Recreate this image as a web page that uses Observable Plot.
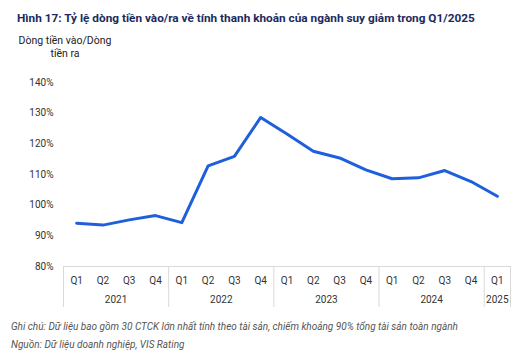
<!DOCTYPE html>
<html><head><meta charset="utf-8">
<script src="https://cdn.jsdelivr.net/npm/d3@7"></script>
<script src="https://cdn.jsdelivr.net/npm/@observablehq/plot@0.6"></script>
<style>
body{margin:0;width:520px;height:356px;position:relative;background:#fff;font-family:Roboto,sans-serif;overflow:hidden}
#title{position:absolute;left:17px;top:11px;font-size:11.8px;font-weight:700;color:#1c2a5e;white-space:nowrap}
#ylabel{position:absolute;left:15px;top:35px;width:100px;text-align:center;font-size:10.5px;line-height:12.5px;color:#222}
#chart{position:absolute;left:0;top:70px}
#note{position:absolute;left:11px;top:318px;font-size:10px;font-style:italic;color:#555;line-height:18px;white-space:nowrap}
</style></head><body>
<div id="title">Hình 17: Tỷ lệ dòng tiền vào/ra về tính thanh khoản của ngành suy giảm trong Q1/2025</div>
<div id="ylabel">Dòng tiền vào/Dòng<br>tiền ra</div>
<div id="chart"></div>
<div id="note">Ghi chú: Dữ liệu bao gồm 30 CTCK lớn nhất tính theo tài sản, chiếm khoảng 90% tổng tài sản toàn ngành<br>Nguồn: Dữ liệu doanh nghiệp, VIS Rating</div>
<script>
const quarters = ["Q1","Q2","Q3","Q4","Q1","Q2","Q3","Q4","Q1","Q2","Q3","Q4","Q1","Q2","Q3","Q4","Q1"];
const years = ["2021","2022","2023","2024","2025"];
const quartersPerYear = [4,4,4,4,1];
const ratio = [94.1,93.5,95.2,96.6,94.3,112.8,115.9,128.6,123.2,117.6,115.4,111.5,108.6,108.9,111.3,107.7,102.9];
const yTicks = [80,90,100,110,120,130,140];

const data = ratio.map((v, i) => ({i, v}));
const boundaries = [-0.5];
const yearCenters = [];
let start = 0;
for (const n of quartersPerYear) {
  yearCenters.push(start + (n - 1) / 2);
  start += n;
  boundaries.push(start - 0.5);
}
const idx = d3.range(quarters.length);

const plot = Plot.plot({
  width: 520,
  height: 245,
  marginLeft: 63,
  marginRight: 10,
  marginTop: 12,
  marginBottom: 49,
  style: {fontFamily: "Roboto, sans-serif", fontSize: "10px", color: "#333", background: "transparent"},
  x: {type: "linear", domain: [-0.5, quarters.length - 0.5], label: null},
  y: {domain: [80, 140], label: null},
  marks: [
    Plot.ruleY([80], {stroke: "#d9d9d9"}),
    Plot.axisX(boundaries, {tickSize: 41, tickFormat: () => "", stroke: "#d9d9d9", strokeOpacity: 1}),
    Plot.axisX(idx, {tickSize: 0, tickPadding: 10, tickFormat: i => quarters[i], fill: "#333"}),
    Plot.axisX(yearCenters, {tickSize: 0, tickPadding: 29, tickFormat: d => years[yearCenters.indexOf(d)], fill: "#333"}),
    Plot.axisY(yTicks, {tickSize: 0, tickPadding: 10, tickFormat: d => d + "%", fill: "#333"}),
    Plot.line(data, {x: "i", y: "v", stroke: "#1f5fdb", strokeWidth: 3, strokeLinejoin: "round"})
  ]
});
document.getElementById("chart").appendChild(plot);
</script>
</body></html>
